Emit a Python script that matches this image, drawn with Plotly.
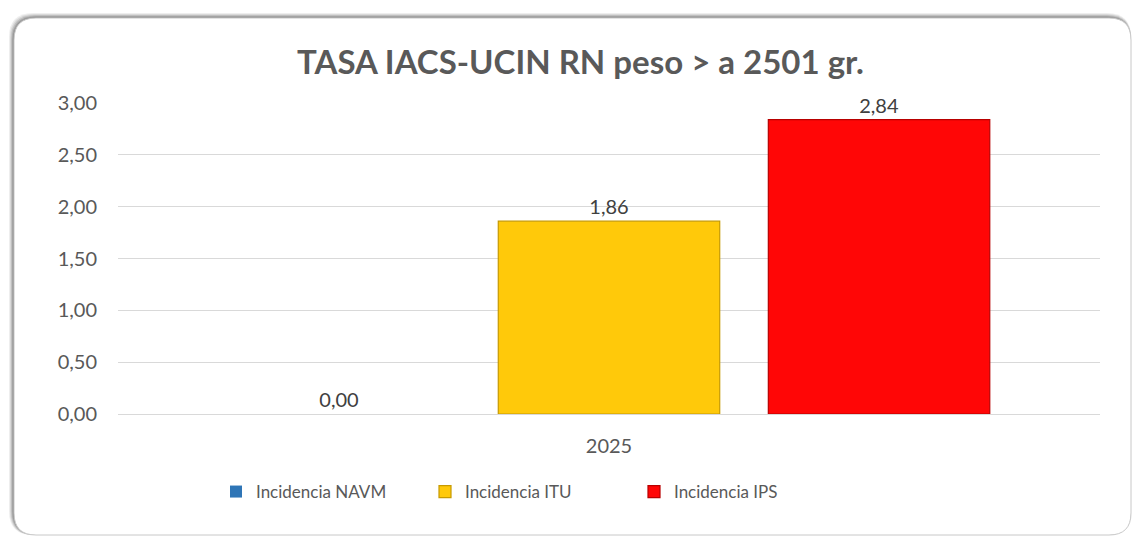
import plotly.graph_objects as go

# Chart data
categories = ["2025"]
series_names = ["Incidencia NAVM", "Incidencia ITU", "Incidencia IPS"]
series_values = [[0.00], [1.86], [2.84]]
series_colors = ["#2E75B6", "#FFC90A", "#FF0606"]
series_edges = ["#1F4E79", "#C79A00", "#B80000"]
y_ticks = [0, 0.5, 1.0, 1.5, 2.0, 2.5, 3.0]

W, H = 1134, 540
L, R, T, B = 118, 34, 103, 126
PW, PH = W - L - R, H - T - B


def px(x):
    return (x - L) / PW


def py(y):
    return (H - B - y) / PH


def rounded_rect(x0, y0, x1, y1, r):
    # rounded rectangle path in paper coordinates from pixel corners
    rx, ry = r / PW, r / PH
    a, b, c, d = px(x0), px(x1), py(y0), py(y1)
    return (f"M {a + rx},{c} L {b - rx},{c} Q {b},{c} {b},{c - ry} "
            f"L {b},{d + ry} Q {b},{d} {b - rx},{d} L {a + rx},{d} "
            f"Q {a},{d} {a},{d + ry} L {a},{c - ry} Q {a},{c} {a + rx},{c} Z")


fig = go.Figure()
for name, vals, col, edge in zip(series_names, series_values, series_colors, series_edges):
    has_height = max(vals) > 0
    fig.add_trace(go.Bar(
        x=categories, y=vals, name=name,
        marker=dict(color=col, line=dict(color=edge, width=1.2 if has_height else 0)),
        text=vals, texttemplate="%{y:.2f}", textposition="outside",
        textfont=dict(family="Lato", size=20, color="#404040"),
        cliponaxis=False,
    ))

shapes = []
# soft shadow around the chart frame
for i, op in enumerate([0.10, 0.14, 0.20, 0.28, 0.38]):
    off = 5 - i
    shapes.append(dict(type="path", xref="paper", yref="paper", layer="below",
                       path=rounded_rect(14 - off, 18 - off, 1131, 535, 24),
                       fillcolor=f"rgba(90,90,90,{op})", line=dict(width=0)))
shapes.append(dict(type="path", xref="paper", yref="paper", layer="below",
                   path=rounded_rect(14, 18, 1131, 535, 22),
                   fillcolor="white", line=dict(color="#C8C8C8", width=1)))

fig.update_layout(
    width=W, height=H,
    margin=dict(l=L, r=R, t=T, b=B),
    paper_bgcolor="white", plot_bgcolor="rgba(0,0,0,0)",
    separators=",.",
    barmode="group", bargap=0.175, bargroupgap=0.18,
    font=dict(family="Lato", color="#595959"),
    shapes=shapes,
    showlegend=True,
    legend=dict(orientation="h", x=px(216), y=py(492), xanchor="left", yanchor="middle",
                entrywidth=164, entrywidthmode="pixels",
                font=dict(family="Lato", size=17, color="#595959"),
                bgcolor="rgba(0,0,0,0)", itemclick=False),
    annotations=[dict(text="<b>TASA IACS-UCIN RN peso > a 2501 gr.</b>",
                      xref="paper", yref="paper", x=px(580), y=py(61),
                      xanchor="center", yanchor="middle", showarrow=False,
                      font=dict(family="Lato", size=33, color="#595959"))],
)
fig.update_yaxes(range=[0, 3], tickvals=y_ticks, tickformat=".2f",
                 showgrid=True, gridcolor="#D9D9D9", gridwidth=1.3,
                 zeroline=True, zerolinecolor="#D9D9D9", zerolinewidth=1.3,
                 showline=False, ticks="", ticklabelstandoff=20,
                 tickfont=dict(family="Lato", size=20, color="#595959"))
fig.update_xaxes(showgrid=False, showline=False, ticks="", ticklabelstandoff=18,
                 tickfont=dict(family="Lato", size=20, color="#595959"))

fig.write_html("out.html")
